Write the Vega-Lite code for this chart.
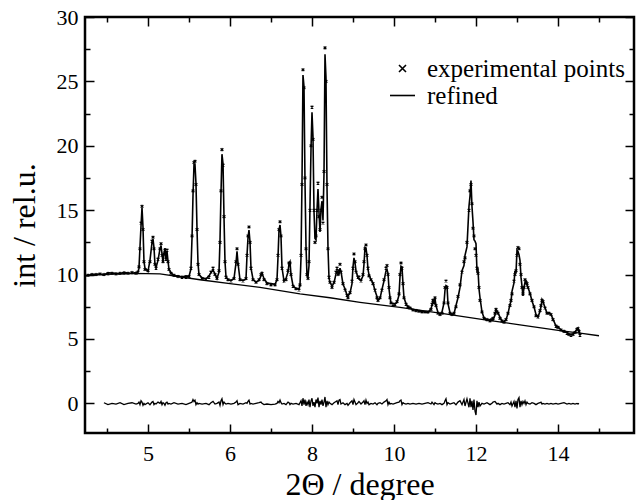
{
"$schema": "https://vega.github.io/schema/vega-lite/v6.json",
"width": 549,
"height": 416,
"autosize": "none",
"padding": {"left": 85, "top": 17, "right": 2, "bottom": 67},
"background": "white",
"config": {
  "view": {"stroke": "black", "strokeWidth": 2.5},
  "font": "Liberation Serif, DejaVu Serif, serif",
  "axis": {"domain": false, "grid": false, "tickColor": "black", "tickWidth": 1.5, "labelColor": "black", "labelFont": "Liberation Serif, DejaVu Serif, serif", "labelFontSize": 22, "titleFont": "Liberation Serif, DejaVu Serif, serif", "titleFontSize": 32, "titleFontWeight": "normal", "titleColor": "black", "labelFlush": false},
  "legend": {"labelFont": "Liberation Serif, DejaVu Serif, serif", "labelLimit": 400}
},
"datasets": {
"bg": [
{"t":4.232,"bg":9.9},{"t":4.415,"bg":10.0},{"t":4.817,"bg":10.1},{"t":5.146,"bg":10.05},{"t":5.634,"bg":9.6},{"t":6.0,"bg":9.3},{"t":6.732,"bg":9.0},{"t":7.707,"bg":8.5},{"t":8.439,"bg":8.2},{"t":9.171,"bg":7.85},{"t":10.146,"bg":7.45},{"t":11.122,"bg":7.0},{"t":12.098,"bg":6.55},{"t":13.073,"bg":6.1},{"t":14.049,"bg":5.65},{"t":14.537,"bg":5.45},{"t":15.0,"bg":5.25}
],
"profile": [
{"t":4.268,"obs":9.95,"calc":9.95},
{"t":4.317,"obs":10.0,"calc":10.0},
{"t":4.366,"obs":10.0,"calc":10.0},
{"t":4.415,"obs":10.05,"calc":10.05},
{"t":4.463,"obs":10.0,"calc":9.95,"diff":0.05},
{"t":4.512,"obs":10.05,"calc":10.15,"diff":-0.1},
{"t":4.561,"obs":10.1,"calc":10.1,"diff":0.0},
{"t":4.610,"obs":10.05,"calc":10.1,"diff":-0.05},
{"t":4.659,"obs":10.1,"calc":10.05,"diff":0.05},
{"t":4.707,"obs":10.1,"calc":10.2,"diff":-0.1},
{"t":4.756,"obs":10.1,"calc":10.1,"diff":0.0},
{"t":4.805,"obs":10.15,"calc":10.1,"diff":0.05},
{"t":4.854,"obs":10.1,"calc":10.15,"diff":-0.05},
{"t":4.878,"obs":10.2,"calc":10.2,"diff":0.0},
{"t":4.890,"obs":10.6,"calc":10.5,"diff":0.1},
{"t":4.902,"obs":12.0,"calc":12.1,"diff":-0.1},
{"t":4.915,"obs":14.0,"calc":13.8,"diff":0.2},
{"t":4.927,"obs":15.3,"calc":15.2,"diff":0.1},
{"t":4.939,"obs":13.5,"calc":13.65,"diff":-0.15},
{"t":4.951,"obs":11.0,"calc":11.0,"diff":0.0},
{"t":4.963,"obs":10.4,"calc":10.5,"diff":-0.1},
{"t":5.000,"obs":10.3,"calc":10.25,"diff":0.05},
{"t":5.024,"obs":11.0,"calc":11.1,"diff":-0.1},
{"t":5.049,"obs":12.6,"calc":12.5,"diff":0.1},
{"t":5.061,"obs":12.9,"calc":12.75,"diff":0.15},
{"t":5.073,"obs":12.0,"calc":12.1,"diff":-0.1},
{"t":5.085,"obs":10.8,"calc":10.8,"diff":0.0},
{"t":5.098,"obs":10.5,"calc":10.55,"diff":-0.05},
{"t":5.122,"obs":11.2,"calc":11.1,"diff":0.1},
{"t":5.146,"obs":12.0,"calc":12.0,"diff":0.0},
{"t":5.159,"obs":12.4,"calc":12.25,"diff":0.15},
{"t":5.171,"obs":11.5,"calc":11.6,"diff":-0.1},
{"t":5.183,"obs":11.0,"calc":10.95,"diff":0.05},
{"t":5.195,"obs":11.6,"calc":11.6,"diff":0.0},
{"t":5.207,"obs":11.9,"calc":12.05,"diff":-0.15},
{"t":5.220,"obs":11.2,"calc":11.15,"diff":0.05},
{"t":5.232,"obs":11.9,"calc":11.8,"diff":0.1},
{"t":5.244,"obs":11.0,"calc":11.05,"diff":-0.05},
{"t":5.256,"obs":10.4,"calc":10.4,"diff":0.0},
{"t":5.280,"obs":10.1,"calc":10.15,"diff":-0.05},
{"t":5.317,"obs":9.95,"calc":9.9,"diff":0.05},
{"t":5.366,"obs":9.85,"calc":9.9,"diff":-0.05},
{"t":5.415,"obs":9.8,"calc":9.8,"diff":0.0},
{"t":5.463,"obs":9.8,"calc":9.9,"diff":-0.1},
{"t":5.500,"obs":9.85,"calc":9.85,"diff":0.0},
{"t":5.524,"obs":10.5,"calc":10.45,"diff":0.05},
{"t":5.537,"obs":13.0,"calc":12.9,"diff":0.1},
{"t":5.549,"obs":16.5,"calc":16.2,"diff":0.3},
{"t":5.561,"obs":18.7,"calc":18.55,"diff":0.15},
{"t":5.573,"obs":18.8,"calc":18.55,"diff":0.25},
{"t":5.585,"obs":17.0,"calc":17.1,"diff":-0.1},
{"t":5.598,"obs":13.5,"calc":13.45,"diff":0.05},
{"t":5.610,"obs":10.8,"calc":10.85,"diff":-0.05},
{"t":5.622,"obs":10.0,"calc":10.0,"diff":0.0},
{"t":5.659,"obs":9.7,"calc":9.75,"diff":-0.05},
{"t":5.707,"obs":9.65,"calc":9.65,"diff":0.0},
{"t":5.744,"obs":9.8,"calc":9.9,"diff":-0.1},
{"t":5.768,"obs":10.2,"calc":10.15,"diff":0.05},
{"t":5.793,"obs":10.5,"calc":10.35,"diff":0.15},
{"t":5.817,"obs":10.0,"calc":10.05,"diff":-0.05},
{"t":5.841,"obs":9.7,"calc":9.7,"diff":0.0},
{"t":5.866,"obs":10.3,"calc":10.2,"diff":0.1},
{"t":5.878,"obs":12.5,"calc":12.65,"diff":-0.15},
{"t":5.890,"obs":16.5,"calc":16.3,"diff":0.2},
{"t":5.902,"obs":19.7,"calc":19.35,"diff":0.35},
{"t":5.915,"obs":18.5,"calc":18.6,"diff":-0.1},
{"t":5.927,"obs":14.5,"calc":14.4,"diff":0.1},
{"t":5.939,"obs":11.0,"calc":11.0,"diff":0.0},
{"t":5.951,"obs":9.8,"calc":9.85,"diff":-0.05},
{"t":5.976,"obs":9.6,"calc":9.6,"diff":0.0},
{"t":6.024,"obs":9.5,"calc":9.55,"diff":-0.05},
{"t":6.098,"obs":9.7,"calc":9.7,"diff":0.0},
{"t":6.146,"obs":11.0,"calc":10.9,"diff":0.1},
{"t":6.171,"obs":12.0,"calc":11.8,"diff":0.2},
{"t":6.195,"obs":10.8,"calc":10.9,"diff":-0.1},
{"t":6.244,"obs":9.6,"calc":9.6,"diff":0.0},
{"t":6.317,"obs":9.5,"calc":9.55,"diff":-0.05},
{"t":6.390,"obs":9.7,"calc":9.65,"diff":0.05},
{"t":6.415,"obs":11.5,"calc":11.5,"diff":0.0},
{"t":6.439,"obs":13.0,"calc":12.85,"diff":0.15},
{"t":6.463,"obs":13.7,"calc":13.45,"diff":0.25},
{"t":6.488,"obs":12.5,"calc":12.55,"diff":-0.05},
{"t":6.512,"obs":10.5,"calc":10.5,"diff":0.0},
{"t":6.561,"obs":9.6,"calc":9.65,"diff":-0.05},
{"t":6.634,"obs":9.4,"calc":9.4,"diff":0.0},
{"t":6.707,"obs":9.6,"calc":9.55,"diff":0.05},
{"t":6.756,"obs":10.0,"calc":9.9,"diff":0.1},
{"t":6.780,"obs":10.1,"calc":10.1,"diff":0.0},
{"t":6.829,"obs":9.6,"calc":9.7,"diff":-0.1},
{"t":6.902,"obs":9.3,"calc":9.35,"diff":-0.05},
{"t":7.000,"obs":9.2,"calc":9.3,"diff":-0.1},
{"t":7.098,"obs":9.2,"calc":9.25,"diff":-0.05},
{"t":7.146,"obs":9.6,"calc":9.6,"diff":0.0},
{"t":7.171,"obs":11.5,"calc":11.35,"diff":0.15},
{"t":7.195,"obs":13.5,"calc":13.45,"diff":0.05},
{"t":7.220,"obs":14.1,"calc":13.85,"diff":0.25},
{"t":7.244,"obs":13.0,"calc":12.95,"diff":0.05},
{"t":7.268,"obs":10.5,"calc":10.55,"diff":-0.05},
{"t":7.317,"obs":9.5,"calc":9.5,"diff":0.0},
{"t":7.366,"obs":9.6,"calc":9.7,"diff":-0.1},
{"t":7.415,"obs":10.3,"calc":10.2,"diff":0.1},
{"t":7.439,"obs":10.9,"calc":10.85,"diff":0.05},
{"t":7.463,"obs":10.9,"calc":11.0,"diff":-0.1},
{"t":7.488,"obs":10.0,"calc":10.0,"diff":0.0},
{"t":7.537,"obs":9.1,"calc":9.15,"diff":-0.05},
{"t":7.610,"obs":8.9,"calc":8.9,"diff":0.0},
{"t":7.683,"obs":8.8,"calc":8.9,"diff":-0.1},
{"t":7.707,"obs":9.2,"calc":9.15,"diff":0.05},
{"t":7.732,"obs":11.5,"calc":11.3,"diff":0.2},
{"t":7.756,"obs":17.0,"calc":17.2,"diff":-0.2},
{"t":7.780,"obs":25.9,"calc":25.5,"diff":0.4},
{"t":7.805,"obs":24.5,"calc":24.6,"diff":-0.1},
{"t":7.829,"obs":17.5,"calc":17.2,"diff":0.3},
{"t":7.854,"obs":12.0,"calc":12.2,"diff":-0.2},
{"t":7.878,"obs":10.0,"calc":9.9,"diff":0.1},
{"t":7.902,"obs":9.7,"calc":9.8,"diff":-0.1},
{"t":7.927,"obs":11.0,"calc":10.7,"diff":0.3},
{"t":7.951,"obs":15.0,"calc":15.3,"diff":-0.3},
{"t":7.976,"obs":20.0,"calc":19.8,"diff":0.2},
{"t":8.000,"obs":23.0,"calc":22.6,"diff":0.4},
{"t":8.024,"obs":20.5,"calc":20.7,"diff":-0.2},
{"t":8.049,"obs":15.0,"calc":14.9,"diff":0.1},
{"t":8.073,"obs":12.5,"calc":12.8,"diff":-0.3},
{"t":8.098,"obs":13.0,"calc":12.7,"diff":0.3},
{"t":8.122,"obs":15.0,"calc":15.0,"diff":0.0},
{"t":8.146,"obs":17.1,"calc":16.65,"diff":0.45},
{"t":8.171,"obs":14.5,"calc":14.8,"diff":-0.3},
{"t":8.195,"obs":13.5,"calc":13.3,"diff":0.2},
{"t":8.220,"obs":15.0,"calc":15.1,"diff":-0.1},
{"t":8.244,"obs":16.0,"calc":15.7,"diff":0.3},
{"t":8.268,"obs":14.0,"calc":14.2,"diff":-0.2},
{"t":8.293,"obs":18.0,"calc":17.9,"diff":0.1},
{"t":8.317,"obs":27.6,"calc":27.1,"diff":0.5},
{"t":8.341,"obs":25.0,"calc":25.3,"diff":-0.3},
{"t":8.366,"obs":17.0,"calc":16.8,"diff":0.2},
{"t":8.390,"obs":12.0,"calc":12.1,"diff":-0.1},
{"t":8.415,"obs":9.8,"calc":9.7,"diff":0.1},
{"t":8.439,"obs":9.4,"calc":9.4,"diff":0.0},
{"t":8.488,"obs":9.0,"calc":9.1,"diff":-0.1},
{"t":8.537,"obs":9.4,"calc":9.35,"diff":0.05},
{"t":8.585,"obs":10.2,"calc":10.05,"diff":0.15},
{"t":8.610,"obs":10.5,"calc":10.3,"diff":0.2},
{"t":8.634,"obs":10.0,"calc":10.1,"diff":-0.1},
{"t":8.659,"obs":10.3,"calc":10.05,"diff":0.25},
{"t":8.683,"obs":10.8,"calc":10.5,"diff":0.3},
{"t":8.707,"obs":10.2,"calc":10.25,"diff":-0.05},
{"t":8.756,"obs":9.3,"calc":9.25,"diff":0.05},
{"t":8.805,"obs":8.8,"calc":8.9,"diff":-0.1},
{"t":8.854,"obs":8.4,"calc":8.4,"diff":0.0},
{"t":8.878,"obs":8.2,"calc":8.35,"diff":-0.15},
{"t":8.927,"obs":8.6,"calc":8.55,"diff":0.05},
{"t":8.976,"obs":9.5,"calc":9.3,"diff":0.2},
{"t":9.000,"obs":10.5,"calc":10.6,"diff":-0.1},
{"t":9.024,"obs":11.6,"calc":11.3,"diff":0.3},
{"t":9.049,"obs":11.0,"calc":10.9,"diff":0.1},
{"t":9.073,"obs":10.2,"calc":10.3,"diff":-0.1},
{"t":9.122,"obs":9.8,"calc":9.75,"diff":0.05},
{"t":9.146,"obs":9.8,"calc":9.65,"diff":0.15},
{"t":9.195,"obs":9.5,"calc":9.55,"diff":-0.05},
{"t":9.244,"obs":10.0,"calc":9.9,"diff":0.1},
{"t":9.268,"obs":11.0,"calc":10.8,"diff":0.2},
{"t":9.293,"obs":12.0,"calc":12.1,"diff":-0.1},
{"t":9.317,"obs":12.3,"calc":12.05,"diff":0.25},
{"t":9.341,"obs":11.5,"calc":11.5,"diff":0.0},
{"t":9.366,"obs":10.5,"calc":10.4,"diff":0.1},
{"t":9.390,"obs":9.9,"calc":10.0,"diff":-0.1},
{"t":9.439,"obs":9.6,"calc":9.6,"diff":0.0},
{"t":9.488,"obs":9.3,"calc":9.35,"diff":-0.05},
{"t":9.537,"obs":8.8,"calc":8.75,"diff":0.05},
{"t":9.585,"obs":8.2,"calc":8.3,"diff":-0.1},
{"t":9.610,"obs":8.0,"calc":8.0,"diff":0.0},
{"t":9.659,"obs":8.2,"calc":8.15,"diff":0.05},
{"t":9.707,"obs":8.8,"calc":8.85,"diff":-0.05},
{"t":9.756,"obs":9.6,"calc":9.5,"diff":0.1},
{"t":9.805,"obs":10.5,"calc":10.3,"diff":0.2},
{"t":9.829,"obs":10.7,"calc":10.4,"diff":0.3},
{"t":9.854,"obs":10.0,"calc":10.1,"diff":-0.1},
{"t":9.878,"obs":9.0,"calc":8.9,"diff":0.1},
{"t":9.902,"obs":8.2,"calc":8.25,"diff":-0.05},
{"t":9.927,"obs":7.8,"calc":7.8,"diff":0.0},
{"t":9.976,"obs":7.7,"calc":7.75,"diff":-0.05},
{"t":10.024,"obs":7.7,"calc":7.7,"diff":0.0},
{"t":10.073,"obs":7.9,"calc":7.85,"diff":0.05},
{"t":10.122,"obs":8.5,"calc":8.4,"diff":0.1},
{"t":10.146,"obs":10.0,"calc":9.8,"diff":0.2},
{"t":10.171,"obs":10.9,"calc":10.65,"diff":0.25},
{"t":10.195,"obs":10.5,"calc":10.6,"diff":-0.1},
{"t":10.220,"obs":9.3,"calc":9.25,"diff":0.05},
{"t":10.244,"obs":8.2,"calc":8.2,"diff":0.0},
{"t":10.293,"obs":7.7,"calc":7.75,"diff":-0.05},
{"t":10.341,"obs":7.5,"calc":7.5,"diff":0.0},
{"t":10.390,"obs":7.4,"calc":7.45,"diff":-0.05},
{"t":10.463,"obs":7.25,"calc":7.25,"diff":0.0},
{"t":10.537,"obs":7.2,"calc":7.25,"diff":-0.05},
{"t":10.610,"obs":7.15,"calc":7.15,"diff":0.0},
{"t":10.683,"obs":7.1,"calc":7.15,"diff":-0.05},
{"t":10.756,"obs":7.1,"calc":7.1,"diff":0.0},
{"t":10.829,"obs":7.1,"calc":7.05,"diff":0.05},
{"t":10.902,"obs":7.3,"calc":7.35,"diff":-0.05},
{"t":10.927,"obs":7.7,"calc":7.6,"diff":0.1},
{"t":10.951,"obs":8.0,"calc":8.0,"diff":0.0},
{"t":10.976,"obs":7.8,"calc":7.9,"diff":-0.1},
{"t":11.000,"obs":8.2,"calc":8.15,"diff":0.05},
{"t":11.024,"obs":7.6,"calc":7.6,"diff":0.0},
{"t":11.073,"obs":7.0,"calc":7.05,"diff":-0.05},
{"t":11.122,"obs":6.9,"calc":6.9,"diff":0.0},
{"t":11.171,"obs":7.0,"calc":7.1,"diff":-0.1},
{"t":11.220,"obs":7.8,"calc":7.8,"diff":0.0},
{"t":11.244,"obs":9.0,"calc":8.8,"diff":0.2},
{"t":11.268,"obs":9.5,"calc":9.15,"diff":0.35},
{"t":11.293,"obs":9.0,"calc":9.1,"diff":-0.1},
{"t":11.317,"obs":7.8,"calc":7.75,"diff":0.05},
{"t":11.366,"obs":7.0,"calc":7.05,"diff":-0.05},
{"t":11.415,"obs":6.9,"calc":6.9,"diff":0.0},
{"t":11.463,"obs":7.0,"calc":6.95,"diff":0.05},
{"t":11.512,"obs":7.5,"calc":7.6,"diff":-0.1},
{"t":11.561,"obs":8.3,"calc":8.2,"diff":0.1},
{"t":11.610,"obs":9.2,"calc":9.0,"diff":0.2},
{"t":11.659,"obs":10.2,"calc":10.3,"diff":-0.1},
{"t":11.707,"obs":11.0,"calc":10.7,"diff":0.3},
{"t":11.732,"obs":11.3,"calc":11.5,"diff":-0.2},
{"t":11.780,"obs":12.5,"calc":12.15,"diff":0.35},
{"t":11.829,"obs":15.0,"calc":15.3,"diff":-0.3},
{"t":11.854,"obs":16.5,"calc":16.1,"diff":0.4},
{"t":11.878,"obs":17.0,"calc":17.3,"diff":-0.3},
{"t":11.902,"obs":15.5,"calc":15.3,"diff":0.2},
{"t":11.927,"obs":13.6,"calc":14.1,"diff":-0.5},
{"t":11.951,"obs":13.0,"calc":12.7,"diff":0.3},
{"t":11.976,"obs":12.0,"calc":12.6,"diff":-0.6},
{"t":12.000,"obs":11.5,"calc":12.4,"diff":-0.9},
{"t":12.024,"obs":10.5,"calc":10.3,"diff":0.2},
{"t":12.049,"obs":10.1,"calc":10.4,"diff":-0.3},
{"t":12.073,"obs":9.0,"calc":8.9,"diff":0.1},
{"t":12.098,"obs":8.0,"calc":8.2,"diff":-0.2},
{"t":12.146,"obs":7.1,"calc":7.1,"diff":0.0},
{"t":12.195,"obs":6.6,"calc":6.65,"diff":-0.05},
{"t":12.268,"obs":6.5,"calc":6.45,"diff":0.05},
{"t":12.341,"obs":6.4,"calc":6.5,"diff":-0.1},
{"t":12.390,"obs":6.5,"calc":6.5,"diff":0.0},
{"t":12.415,"obs":6.6,"calc":6.5,"diff":0.1},
{"t":12.463,"obs":7.0,"calc":6.85,"diff":0.15},
{"t":12.488,"obs":7.3,"calc":7.25,"diff":0.05},
{"t":12.512,"obs":7.1,"calc":7.15,"diff":-0.05},
{"t":12.537,"obs":7.0,"calc":7.0,"diff":0.0},
{"t":12.585,"obs":6.6,"calc":6.7,"diff":-0.1},
{"t":12.634,"obs":6.4,"calc":6.4,"diff":0.0},
{"t":12.683,"obs":6.3,"calc":6.35,"diff":-0.05},
{"t":12.732,"obs":6.5,"calc":6.5,"diff":0.0},
{"t":12.780,"obs":7.0,"calc":6.95,"diff":0.05},
{"t":12.829,"obs":7.6,"calc":7.7,"diff":-0.1},
{"t":12.854,"obs":8.0,"calc":7.9,"diff":0.1},
{"t":12.878,"obs":8.5,"calc":8.7,"diff":-0.2},
{"t":12.927,"obs":9.5,"calc":9.35,"diff":0.15},
{"t":12.951,"obs":10.0,"calc":10.3,"diff":-0.3},
{"t":12.976,"obs":10.3,"calc":10.1,"diff":0.2},
{"t":13.000,"obs":11.5,"calc":11.9,"diff":-0.4},
{"t":13.024,"obs":12.1,"calc":11.8,"diff":0.3},
{"t":13.049,"obs":12.0,"calc":11.55,"diff":0.45},
{"t":13.073,"obs":10.8,"calc":11.1,"diff":-0.3},
{"t":13.098,"obs":10.0,"calc":9.8,"diff":0.2},
{"t":13.122,"obs":9.0,"calc":9.1,"diff":-0.1},
{"t":13.146,"obs":8.5,"calc":8.35,"diff":0.15},
{"t":13.171,"obs":9.0,"calc":9.0,"diff":0.0},
{"t":13.195,"obs":9.6,"calc":9.4,"diff":0.2},
{"t":13.220,"obs":9.4,"calc":9.5,"diff":-0.1},
{"t":13.244,"obs":9.3,"calc":9.2,"diff":0.1},
{"t":13.268,"obs":9.0,"calc":9.0,"diff":0.0},
{"t":13.317,"obs":8.5,"calc":8.55,"diff":-0.05},
{"t":13.366,"obs":8.0,"calc":7.95,"diff":0.05},
{"t":13.415,"obs":7.5,"calc":7.5,"diff":0.0},
{"t":13.463,"obs":6.8,"calc":6.9,"diff":-0.1},
{"t":13.512,"obs":6.7,"calc":6.7,"diff":0.0},
{"t":13.561,"obs":7.2,"calc":7.15,"diff":0.05},
{"t":13.585,"obs":7.6,"calc":7.5,"diff":0.1},
{"t":13.610,"obs":8.0,"calc":8.05,"diff":-0.05},
{"t":13.634,"obs":7.9,"calc":7.9,"diff":0.0},
{"t":13.683,"obs":7.4,"calc":7.45,"diff":-0.05},
{"t":13.732,"obs":7.0,"calc":7.0,"diff":0.0},
{"t":13.780,"obs":7.0,"calc":7.05,"diff":-0.05},
{"t":13.829,"obs":6.9,"calc":6.9,"diff":0.0},
{"t":13.878,"obs":6.5,"calc":6.55,"diff":-0.05},
{"t":13.951,"obs":6.0,"calc":6.0,"diff":0.0},
{"t":14.000,"obs":5.9,"calc":5.95,"diff":-0.05},
{"t":14.073,"obs":5.7,"calc":5.7,"diff":0.0},
{"t":14.146,"obs":5.6,"calc":5.55,"diff":0.05},
{"t":14.220,"obs":5.45,"calc":5.5,"diff":-0.05},
{"t":14.268,"obs":5.35,"calc":5.35,"diff":0.0},
{"t":14.317,"obs":5.3,"calc":5.35,"diff":-0.05},
{"t":14.366,"obs":5.35,"calc":5.35,"diff":0.0},
{"t":14.415,"obs":5.5,"calc":5.55,"diff":-0.05},
{"t":14.463,"obs":5.75,"calc":5.75,"diff":0.0},
{"t":14.488,"obs":5.8,"calc":5.85,"diff":-0.05},
{"t":14.512,"obs":5.6,"calc":5.6,"diff":0.0},
{"t":14.537,"obs":5.3,"calc":5.3}
]
},
"resolve": {"axis": {"x": "independent", "y": "independent"}},
"layer": [
{
  "data": {"name": "bg"},
  "mark": {"type": "line", "color": "black", "strokeWidth": 1.3},
  "encoding": {
    "x": {"field": "t", "type": "quantitative",
          "scale": {"domain": [4.232, 5, 6, 15.854], "range": [0, 63, 145, 549], "nice": false, "zero": false},
          "axis": {"orient": "bottom", "values": [5, 6, 8, 10, 12, 14], "tickSize": -9, "labelPadding": 19, "title": "2Θ / degree", "titlePadding": 5}},
    "y": {"field": "bg", "type": "quantitative",
          "scale": {"domain": [-2.3, 30], "nice": false, "zero": false},
          "axis": {"orient": "left", "values": [0, 5, 10, 15, 20, 25, 30], "tickSize": -9, "labelPadding": 16, "title": "int / rel.u.", "titlePadding": 15}}
  }
},
{
  "data": {"name": "profile"},
  "mark": {"type": "line", "color": "black", "strokeWidth": 1.6},
  "encoding": {
    "x": {"field": "t", "type": "quantitative",
          "scale": {"domain": [4.232, 5, 6, 15.854], "range": [0, 63, 145, 549], "nice": false, "zero": false},
          "axis": {"orient": "top", "values": [5, 6, 8, 10, 12, 14], "tickSize": -9, "labels": false, "title": null}},
    "y": {"field": "calc", "type": "quantitative",
          "scale": {"domain": [-2.3, 30], "nice": false, "zero": false},
          "axis": {"orient": "right", "values": [0, 5, 10, 15, 20, 25, 30], "tickSize": -9, "labels": false, "title": null}}
  }
},
{
  "data": {"name": "profile"},
  "mark": {"type": "line", "color": "black", "strokeWidth": 1.3},
  "encoding": {
    "x": {"field": "t", "type": "quantitative",
          "scale": {"domain": [4.232, 5, 6, 15.854], "range": [0, 63, 145, 549], "nice": false, "zero": false},
          "axis": {"orient": "bottom", "values": [4.5, 5.5, 7, 9, 11, 13, 15], "tickSize": -5, "labels": false, "title": null}},
    "y": {"field": "diff", "type": "quantitative",
          "scale": {"domain": [-2.3, 30], "nice": false, "zero": false},
          "axis": {"orient": "left", "values": [2.5, 7.5, 12.5, 17.5, 22.5, 27.5], "tickSize": -5, "labels": false, "title": null}}
  }
},
{
  "data": {"name": "profile"},
  "mark": {"type": "point", "color": "black", "filled": false, "strokeWidth": 1.3, "size": 90, "opacity": 1},
  "encoding": {
    "x": {"field": "t", "type": "quantitative",
          "scale": {"domain": [4.232, 5, 6, 15.854], "range": [0, 63, 145, 549], "nice": false, "zero": false},
          "axis": {"orient": "top", "values": [4.5, 5.5, 7, 9, 11, 13, 15], "tickSize": -5, "labels": false, "title": null}},
    "y": {"field": "obs", "type": "quantitative",
          "scale": {"domain": [-2.3, 30], "nice": false, "zero": false},
          "axis": {"orient": "right", "values": [2.5, 7.5, 12.5, 17.5, 22.5, 27.5], "tickSize": -5, "labels": false, "title": null}},
    "shape": {"datum": "experimental points",
              "scale": {"domain": ["experimental points", "refined"], "range": ["M-0.28,-0.28L0.28,0.28M0.28,-0.28L-0.28,0.28", "M-1,0L1,0"]},
              "legend": {"orient": "none", "legendX": 304, "legendY": 38, "title": null, "labelFont": "Liberation Serif, DejaVu Serif, serif", "labelFontSize": 25, "labelColor": "black", "labelLimit": 400, "symbolSize": 625, "symbolStrokeWidth": 1.6, "symbolStrokeColor": "black", "symbolFillColor": "transparent", "labelOffset": 11, "rowPadding": 0, "padding": 0}}
  }
}
]
}
